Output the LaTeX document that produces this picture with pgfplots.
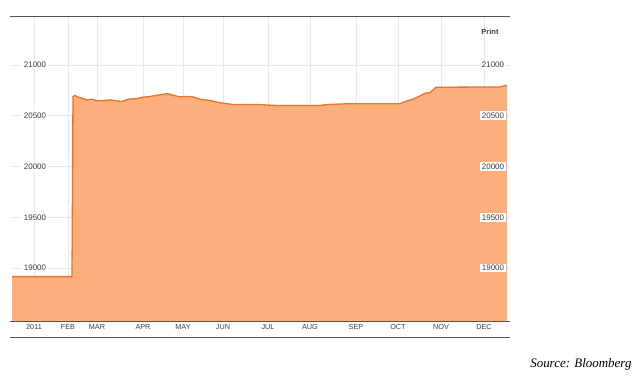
\documentclass[border=0pt]{standalone}
\usepackage{pgfplots}
\pgfplotsset{compat=1.18}
\usepackage{fontspec}
\setmainfont{Liberation Sans}
\newfontfamily\srcfont{Liberation Serif}
\definecolor{fillc}{RGB}{252,171,119}
\definecolor{linec}{RGB}{230,116,42}
\definecolor{gridc}{RGB}{232,232,232}
\definecolor{axc}{RGB}{85,85,85}
\definecolor{txt}{RGB}{60,60,60}
\pgfplotstableread{
x y
12 18915
72 18915
73 20690
75 20700
78 20685
82 20673
87 20657
92 20664
97 20647
103 20650
110 20657
117 20647
122 20640
128 20664
137 20670
143 20683
150 20690
155 20699
160 20706
167 20719
173 20703
180 20686
187 20690
193 20686
200 20664
210 20650
223 20624
233 20611
257 20611
277 20601
320 20601
327 20611
347 20618
400 20618
405 20640
413 20664
420 20696
425 20722
430 20728
436 20781
500 20784
505 20797
507 20800
}\datatable
\begin{document}
\begin{tikzpicture}
\path[use as bounding box] (0bp,0bp) rectangle (642bp,-377bp);
\begin{axis}[
  at={(12bp,-16bp)}, anchor=north west,
  scale only axis, width=498bp, height=305bp,
  xmin=12, xmax=510, ymin=18478, ymax=21483,
  scaled y ticks=false, scaled x ticks=false,
  axis line style={draw=none}, tick style={draw=none},
  xtick={34,68,97,143,183,223,268,310,356,398,441,484},
  xticklabels={2011,FEB,MAR,APR,MAY,JUN,JUL,AUG,SEP,OCT,NOV,DEC},
  ytick={19000,19500,20000,20500,21000}, yticklabels={},
  grid=major, major grid style={gridc, line width=0.6bp},
  xticklabel style={font=\fontsize{7.3}{8}\selectfont, text=txt, inner sep=0pt, yshift=-3.5bp},
]
\addplot[fill=fillc, draw=none, fill opacity=0.96] table {\datatable} \closedcycle;
\addplot[linec, line width=1.3bp] table {\datatable};
\pgfplotsinvokeforeach{19000,19500,20000,20500,21000}{
  \node[fill=white, inner sep=1.5bp, font=\fontsize{8}{9}\selectfont, text=txt] at (axis cs:35,#1) {#1};
  \node[fill=white, inner sep=1.5bp, font=\fontsize{8}{9}\selectfont, text=txt] at (axis cs:493,#1) {#1};
}
\node[font=\bfseries\fontsize{7.5}{8}\selectfont, text=txt] at (axis cs:490,21325) {Print};
\end{axis}
\draw[axc, line width=0.8bp] (10bp,-16bp) -- (510bp,-16bp);
\draw[axc, line width=0.8bp] (10bp,-321bp) -- (510bp,-321bp);
\draw[axc, line width=0.8bp] (10bp,-337bp) -- (510bp,-337bp);
\node[anchor=east, font=\fontsize{13}{15}\selectfont\srcfont\itshape] at (635bp,-364bp) {Source: Bloomberg};
\end{tikzpicture}
\end{document}
